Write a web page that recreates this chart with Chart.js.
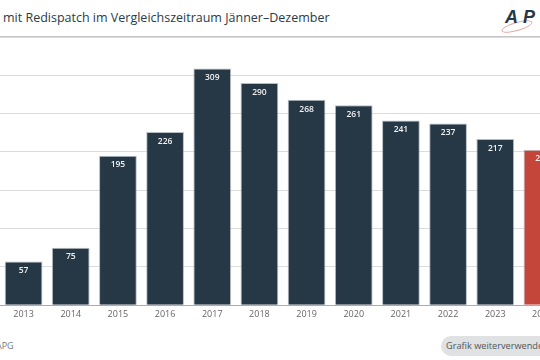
<!DOCTYPE html>
<html>
<head>
<meta charset="utf-8">
<script src="https://cdn.jsdelivr.net/npm/chart.js@4.4.1/dist/chart.umd.min.js"></script>
<style>
  html, body { margin: 0; padding: 0; width: 540px; height: 360px; overflow: hidden; background: #fff; font-family: "Open Sans", sans-serif; }
  #title { position: absolute; left: 3px; top: 9px; margin: 0; font-size: 12.5px; font-weight: normal; color: #2b3a47; white-space: nowrap; }
  #rule { position: absolute; left: 0; top: 36px; width: 540px; height: 1px; background: #c4c4c4; }
  #logo { position: absolute; left: 505px; top: 7px; font: italic bold 18px "Liberation Sans", sans-serif; color: #263746; letter-spacing: 5px; white-space: nowrap; }
  #swoosh { position: absolute; left: 501px; top: 22px; width: 30px; height: 7px; border: 1px solid #e8aaa5; border-radius: 50%; transform: rotate(-16deg); }
  #wrap { position: absolute; left: 0; top: 37px; width: 566px; height: 287px; }
  #source { position: absolute; left: -4px; top: 339px; font-size: 9px; color: #777; }
  #btn { position: absolute; left: 441px; top: 336px; width: 120px; height: 20px; border-radius: 10px; background: #dfe1e3; font-size: 9.2px; color: #555; line-height: 20px; padding-left: 5px; box-sizing: border-box; white-space: nowrap; }
</style>
</head>
<body>
<div id="title">mit Redispatch im Vergleichszeitraum Jänner&ndash;Dezember</div>
<div id="swoosh"></div>
<div id="logo">APG</div>
<div id="rule"></div>
<div id="wrap"><canvas id="myChart"></canvas></div>
<div id="source">APG</div>
<div id="btn">Grafik weiterverwenden</div>
<script>
var years = ["2013", "2014", "2015", "2016", "2017", "2018", "2019", "2020", "2021", "2022", "2023", "2024"];
var days = [57, 75, 195, 226, 309, 290, 268, 261, 241, 237, 217, 203];
var barColors = ["#263746", "#263746", "#263746", "#263746", "#263746", "#263746", "#263746", "#263746", "#263746", "#263746", "#263746", "#c4453a"];

var valueLabels = {
  id: 'valueLabels',
  afterDatasetsDraw: function(chart) {
    var ctx = chart.ctx;
    var meta = chart.getDatasetMeta(0);
    ctx.save();
    ctx.fillStyle = '#f2f2f2';
    ctx.font = '600 8.5px "Open Sans", sans-serif';
    ctx.textAlign = 'center';
    ctx.textBaseline = 'top';
    meta.data.forEach(function(bar, i) {
      ctx.fillText(days[i], bar.x, bar.y + 5);
    });
    ctx.restore();
  }
};

function init() {
  var ctx = document.getElementById('myChart').getContext('2d');
  var chart = new Chart(ctx, {
    type: 'bar',
    data: {
      labels: years,
      datasets: [{
        data: days,
        backgroundColor: barColors,
        borderColor: 'rgba(150,160,170,0.7)',
        borderWidth: 1,
        categoryPercentage: 0.8,
        barPercentage: 1
      }]
    },
    options: {
      responsive: true,
      maintainAspectRatio: false,
      animation: false,
      layout: { padding: 0 },
      plugins: { legend: { display: false }, tooltip: { enabled: false } },
      scales: {
        x: {
          grid: { display: false, drawTicks: false },
          border: { color: '#a9adb2' },
          ticks: { color: '#666', font: { size: 9, family: '"Open Sans", sans-serif' }, padding: 4 }
        },
        y: {
          min: 0,
          max: 350,
          ticks: { display: false, stepSize: 50 },
          grid: { color: '#dcdcdc', drawTicks: false },
          border: { display: false }
        }
      }
    },
    plugins: [valueLabels]
  });
}

init();
</script>
</body>
</html>
